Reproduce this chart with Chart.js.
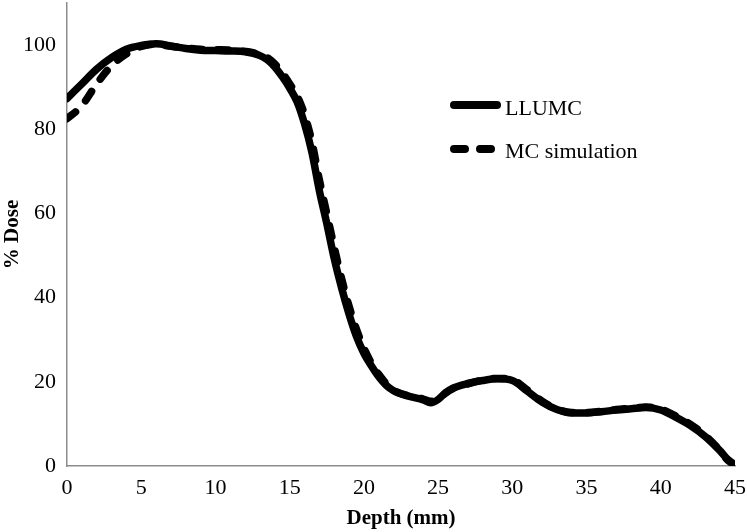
<!DOCTYPE html>
<html>
<head>
<meta charset="utf-8">
<script src="https://cdn.jsdelivr.net/npm/chart.js@4.4.0/dist/chart.umd.min.js"></script>
<style>
  html, body { margin: 0; padding: 0; background: #ffffff; }
  #wrap { width: 747px; height: 532px; }
</style>
</head>
<body>
<div id="wrap"><canvas id="c" width="747" height="532"></canvas></div>
<script>
const depth = [0,1,2,3,4,5,6,7,8,9,10,11,12,13,13.5,14,14.5,15,15.5,16,16.5,17,17.5,18,18.5,19,19.5,20,20.5,21,21.5,22,23,24,24.5,25,25.5,26,27,28,29,30,31,32,33,34,35,36,37,38,39,40,41,42,43,44,44.5,45];
const llumc = [87.3,90.8,94.3,97.0,99.0,99.9,100.3,99.8,99.2,98.8,98.7,98.6,98.4,97.5,96.5,94.8,92.5,89.8,86.5,81.3,74.5,65.4,57.6,49.3,42.3,36.1,30.8,26.8,23.8,21.2,19.2,17.9,16.6,15.7,15.0,15.8,17.4,18.5,19.6,20.3,20.7,20.3,17.8,15.2,13.4,12.6,12.6,12.9,13.3,13.6,13.9,13.3,11.6,9.6,7.0,3.6,1.6,0.3];
const mcSim = [82.5,85.6,90.8,95.1,97.9,99.7,100.2,99.7,99.3,99.0,98.9,98.8,98.5,97.8,97.0,95.5,93.5,90.8,88.0,83.5,77.0,68.0,60.0,52.0,44.5,38.0,32.5,28.0,24.5,21.8,19.6,18.0,16.7,15.9,15.4,15.9,17.3,18.4,19.5,20.4,20.8,20.5,18.1,15.4,13.5,12.7,12.7,13.0,13.4,13.7,14.0,13.5,11.9,9.9,7.2,3.6,1.4,0.2];
const xTicks = [0,5,10,15,20,25,30,35,40,45];
const yTicks = [0,20,40,60,80,100];
const seriesNames = ['LLUMC', 'MC simulation'];
const xTitle = 'Depth (mm)';
const yTitle = '% Dose';

const serif = "'Liberation Serif', 'DejaVu Serif', serif";

const legendPlugin = {
  id: 'customLegend',
  afterDraw(chart) {
    const ctx = chart.ctx;
    ctx.save();
    ctx.strokeStyle = '#000';
    ctx.lineCap = 'round';
    ctx.lineWidth = 8;
    ctx.beginPath();
    ctx.moveTo(454, 105); ctx.lineTo(497, 105);
    ctx.stroke();
    ctx.setLineDash([11, 15]);
    ctx.beginPath();
    ctx.moveTo(454, 149); ctx.lineTo(497, 149);
    ctx.stroke();
    ctx.setLineDash([]);
    ctx.fillStyle = '#000';
    ctx.font = "22px " + serif;
    ctx.textBaseline = 'middle';
    ctx.textAlign = 'left';
    ctx.fillText(seriesNames[0], 505, 109);
    ctx.fillText(seriesNames[1], 505, 152);
    ctx.restore();
  }
};

new Chart(document.getElementById('c'), {
  type: 'line',
  data: {
    datasets: [
      {
        label: seriesNames[0],
        data: depth.map((d, i) => ({x: d, y: llumc[i]})),
        borderColor: '#000',
        borderWidth: 7.5,
        pointRadius: 0,
        cubicInterpolationMode: 'monotone',
        borderCapStyle: 'round',
        borderJoinStyle: 'round',
        fill: false
      },
      {
        label: seriesNames[1],
        data: depth.map((d, i) => ({x: d, y: mcSim[i]})),
        borderColor: '#000',
        borderWidth: 7.5,
        borderDash: [11, 15],
        pointRadius: 0,
        cubicInterpolationMode: 'monotone',
        borderCapStyle: 'round',
        borderJoinStyle: 'round',
        fill: false
      }
    ]
  },
  options: {
    responsive: false,
    animation: false,
    layout: { padding: { top: 3, right: 12, bottom: 0, left: 0 } },
    plugins: { legend: { display: false }, tooltip: { enabled: false } },
    scales: {
      x: {
        type: 'linear',
        min: 0, max: 45,
        afterBuildTicks: s => { s.ticks = xTicks.map(v => ({value: v})); },
        afterFit: s => { s.height = 66; s.paddingLeft = 0; s.paddingRight = 0; },
        grid: { display: false, drawTicks: false },
        border: { display: true, color: '#8c8c8c', width: 1.5 },
        ticks: { color: '#000', font: { family: serif, size: 22 }, padding: 9, maxRotation: 0 },
        title: { display: true, text: xTitle, color: '#000', font: { family: serif, size: 21, weight: 'bold' }, padding: { top: 0, bottom: 1 } }
      },
      y: {
        type: 'linear',
        min: 0, max: 110,
        afterBuildTicks: s => { s.ticks = yTicks.map(v => ({value: v})); },
        afterFit: s => { s.width = 67; s.paddingTop = 0; s.paddingBottom = 0; },
        grid: { display: false, drawTicks: false },
        border: { display: true, color: '#8c8c8c', width: 1.5 },
        ticks: { color: '#000', font: { family: serif, size: 22 }, padding: 11 },
        title: { display: true, text: yTitle, color: '#000', font: { family: serif, size: 21, weight: 'bold' }, padding: { top: 0, bottom: 0 } }
      }
    }
  },
  plugins: [legendPlugin]
});
</script>
</body>
</html>
